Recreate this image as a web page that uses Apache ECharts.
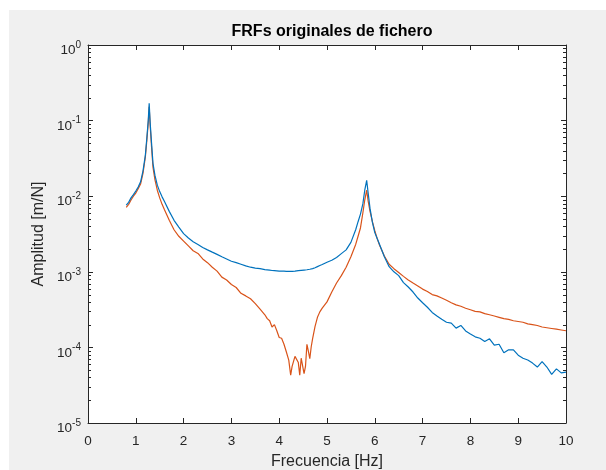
<!DOCTYPE html>
<html>
<head>
<meta charset="utf-8">
<title>FRFs originales de fichero</title>
<script src="https://cdn.jsdelivr.net/npm/echarts@6/dist/echarts.min.js"></script>
<style>
  html, body { margin: 0; padding: 0; background: #ffffff; }
  #figura { position: absolute; left: 9px; top: 10px; width: 597px; height: 460px; background: #f0f0f0; }
  #grafico { position: absolute; left: 0; top: 0; width: 606px; height: 470px; }
</style>
</head>
<body>
<div id="figura"></div>
<div id="grafico"></div>
<script>
// Frecuencias de muestreo de las FRF [Hz]
const frecuencias = [
  0.80, 0.85, 0.90, 0.95, 1.00, 1.05, 1.10, 1.15, 1.20, 1.23, 1.26, 1.28, 1.30, 1.33, 1.36, 1.40,
  1.45, 1.50, 1.55, 1.60, 1.70, 1.80, 1.90, 2.00, 2.10, 2.20, 2.30, 2.40, 2.50, 2.60, 2.70, 2.80,
  2.90, 3.00, 3.10, 3.20, 3.30, 3.40, 3.50, 3.60, 3.70, 3.75, 3.80, 3.85, 3.90, 3.95, 4.00, 4.05,
  4.10, 4.15, 4.20, 4.24, 4.27, 4.30, 4.33, 4.37, 4.40, 4.43, 4.46, 4.49, 4.52, 4.55, 4.58, 4.61,
  4.64, 4.67, 4.70, 4.75, 4.80, 4.85, 4.90, 5.00, 5.10, 5.20, 5.30, 5.40, 5.50, 5.60, 5.65, 5.70,
  5.75, 5.79, 5.83, 5.86, 5.90, 5.95, 6.00, 6.05, 6.10, 6.20, 6.30, 6.40, 6.50, 6.60, 6.70, 6.80,
  6.90, 7.00, 7.10, 7.20, 7.30, 7.40, 7.50, 7.60, 7.70, 7.80, 7.90, 8.00, 8.10, 8.20, 8.30, 8.40,
  8.50, 8.60, 8.70, 8.80, 8.90, 9.00, 9.10, 9.20, 9.30, 9.40, 9.50, 9.60, 9.70, 9.80, 9.90, 10.00
];

// FRF 1 (azul) [m/N]
const frf1 = [
  7.6e-3, 8.3e-3, 9.5e-3, 1.05e-2, 1.17e-2, 1.32e-2, 1.55e-2, 2.15e-2, 3.5e-2, 5.8e-2, 1.0e-1, 1.69e-1, 9.5e-2, 5.0e-2, 2.7e-2, 1.9e-2,
  1.4e-2, 1.15e-2, 9.8e-3, 8.5e-3, 6.3e-3, 4.8e-3, 3.9e-3, 3.2e-3, 2.8e-3, 2.5e-3, 2.3e-3, 2.1e-3, 1.95e-3, 1.82e-3, 1.70e-3, 1.58e-3,
  1.48e-3, 1.38e-3, 1.32e-3, 1.26e-3, 1.20e-3, 1.15e-3, 1.12e-3, 1.10e-3, 1.07e-3, 1.06e-3, 1.05e-3, 1.04e-3, 1.035e-3, 1.03e-3, 1.02e-3, 1.02e-3,
  1.02e-3, 1.015e-3, 1.01e-3, 1.01e-3, 1.015e-3, 1.02e-3, 1.02e-3, 1.03e-3, 1.035e-3, 1.04e-3, 1.045e-3, 1.05e-3, 1.055e-3, 1.06e-3, 1.065e-3, 1.07e-3,
  1.08e-3, 1.09e-3, 1.10e-3, 1.13e-3, 1.17e-3, 1.21e-3, 1.25e-3, 1.34e-3, 1.42e-3, 1.55e-3, 1.74e-3, 1.95e-3, 2.45e-3, 3.6e-3, 4.6e-3, 5.8e-3,
  7.9e-3, 1.2e-2, 1.62e-2, 1.12e-2, 6.9e-3, 4.5e-3, 3.3e-3, 2.75e-3, 2.3e-3, 1.58e-3, 1.17e-3, 1.0e-3, 8.9e-4, 7.2e-4, 6.3e-4, 5.4e-4,
  4.5e-4, 3.9e-4, 3.4e-4, 2.9e-4, 2.6e-4, 2.35e-4, 2.15e-4, 2.1e-4, 1.8e-4, 1.95e-4, 1.65e-4, 1.5e-4, 1.38e-4, 1.32e-4, 1.2e-4, 1.3e-4,
  1.07e-4, 1.1e-4, 8.5e-5, 9.3e-5, 9.3e-5, 7.9e-5, 7.2e-5, 6.8e-5, 6.2e-5, 5.5e-5, 6.5e-5, 5.5e-5, 4.4e-5, 5.2e-5, 4.6e-5, 4.7e-5
];

// FRF 2 (naranja) [m/N]
const frf2 = [
  7.1e-3, 7.8e-3, 8.9e-3, 1.0e-2, 1.1e-2, 1.26e-2, 1.45e-2, 2.0e-2, 3.3e-2, 5.4e-2, 9.3e-2, 1.52e-1, 8.7e-2, 4.4e-2, 2.4e-2, 1.66e-2,
  1.2e-2, 9.5e-3, 7.8e-3, 6.6e-3, 4.8e-3, 3.6e-3, 2.95e-3, 2.55e-3, 2.2e-3, 1.9e-3, 1.75e-3, 1.48e-3, 1.32e-3, 1.15e-3, 1.02e-3, 8.5e-4,
  7.8e-4, 6.8e-4, 6.2e-4, 5.2e-4, 4.8e-4, 4.4e-4, 3.8e-4, 3.2e-4, 2.7e-4, 2.4e-4, 2.25e-4, 1.86e-4, 2.0e-4, 1.66e-4, 1.35e-4, 1.32e-4,
  1.1e-4, 8.7e-5, 6.8e-5, 4.3e-5, 5.6e-5, 5.8e-5, 7.6e-5, 7.9e-5, 6.3e-5, 4.3e-5, 7.2e-5, 7.6e-5, 4.5e-5, 5.6e-5, 1.1e-4, 8.9e-5,
  7.1e-5, 1.02e-4, 1.32e-4, 1.9e-4, 2.5e-4, 2.95e-4, 3.3e-4, 4.0e-4, 5.4e-4, 7.1e-4, 8.9e-4, 1.15e-3, 1.58e-3, 2.3e-3, 2.95e-3, 3.8e-3,
  6.0e-3, 8.9e-3, 1.2e-2, 8.7e-3, 6.3e-3, 4.6e-3, 3.5e-3, 2.75e-3, 2.25e-3, 1.62e-3, 1.26e-3, 1.1e-3, 9.8e-4, 8.7e-4, 7.8e-4, 7.1e-4,
  6.5e-4, 5.9e-4, 5.5e-4, 5.0e-4, 4.8e-4, 4.5e-4, 4.2e-4, 3.9e-4, 3.65e-4, 3.5e-4, 3.3e-4, 3.15e-4, 3.0e-4, 2.95e-4, 2.8e-4, 2.7e-4,
  2.6e-4, 2.5e-4, 2.4e-4, 2.35e-4, 2.25e-4, 2.2e-4, 2.15e-4, 2.05e-4, 2.0e-4, 1.95e-4, 1.86e-4, 1.82e-4, 1.78e-4, 1.74e-4, 1.70e-4, 1.66e-4
];

// Marcas del eje X y límites del eje Y (logarítmico)
const marcasX = [0, 1, 2, 3, 4, 5, 6, 7, 8, 9, 10];
const yMin = 1e-5;
const yMax = 1;
// Marcas secundarias del eje logarítmico (2..9 de cada década)
const marcasMenoresY = [];
for (let e = -5; e < 0; e++) {
  for (let m = 2; m <= 9; m++) marcasMenoresY.push(m * Math.pow(10, e));
}

const COLOR_TEXTO = '#262626';
const COLOR_EJE = '#262626';
const FUENTE = '"Liberation Sans", Arial, Helvetica, sans-serif';

function etiquetaPotencia(v) {
  const e = Math.round(Math.log10(v));
  return '{b|10}{s|' + e + '}';
}

const pares = (ys) => frecuencias.map((f, i) => [f, ys[i]]);

const chart = echarts.init(document.getElementById('grafico'), null, { renderer: 'canvas' });

const ejeX = {
  type: 'value',
  min: marcasX[0],
  max: marcasX[marcasX.length - 1],
  interval: 1,
  axisLine: { show: true, onZero: false, lineStyle: { color: COLOR_EJE, width: 1 } },
  axisTick: { show: true, inside: true, length: 5, lineStyle: { color: COLOR_EJE, width: 1 } },
  splitLine: { show: false }
};

const ejeY = {
  type: 'log',
  logBase: 10,
  min: yMin,
  max: yMax,
  splitNumber: 5,
  axisLine: { show: true, onZero: false, lineStyle: { color: COLOR_EJE, width: 1 } },
  axisTick: { show: true, inside: true, length: 5, lineStyle: { color: COLOR_EJE, width: 1 } },
  splitLine: { show: false }
};

chart.setOption({
  animation: false,
  backgroundColor: 'transparent',
  textStyle: { fontFamily: FUENTE },
  title: {
    text: 'FRFs originales de fichero',
    left: 327,
    textAlign: 'center',
    top: 19,
    textStyle: { fontFamily: FUENTE, fontSize: 16, fontWeight: 'bold', color: '#000000' }
  },
  grid: {
    left: 88, top: 45, right: 40, bottom: 47,
    containLabel: false,
    outerBoundsMode: 'none',
    show: true, backgroundColor: '#ffffff', borderWidth: 0
  },
  xAxis: [
    Object.assign({}, ejeX, {
      position: 'bottom',
      name: 'Frecuencia [Hz]',
      nameLocation: 'middle',
      nameGap: 31,
      nameTextStyle: { fontFamily: FUENTE, fontSize: 16, color: COLOR_TEXTO },
      axisLabel: { show: true, margin: 11, fontFamily: FUENTE, fontSize: 13.5, color: COLOR_TEXTO }
    }),
    Object.assign({}, ejeX, { position: 'top', axisLabel: { show: false } })
  ],
  yAxis: [
    Object.assign({}, ejeY, {
      position: 'left',
      name: 'Amplitud [m/N]',
      nameLocation: 'middle',
      nameGap: 34,
      nameRotate: 90,
      nameTextStyle: { fontFamily: FUENTE, fontSize: 16, color: COLOR_TEXTO },
      axisLabel: {
        show: true,
        margin: 7,
        formatter: etiquetaPotencia,
        rich: {
          b: { fontFamily: FUENTE, fontSize: 13.5, color: COLOR_TEXTO, lineHeight: 12, verticalAlign: 'bottom' },
          s: { fontFamily: FUENTE, fontSize: 10, color: COLOR_TEXTO, lineHeight: 25, verticalAlign: 'middle' }
        }
      }
    }),
    Object.assign({}, ejeY, { position: 'right', axisLabel: { show: false } })
  ],
  series: [
    {
      name: 'FRF 1',
      type: 'line',
      xAxisIndex: 0, yAxisIndex: 0,
      data: pares(frf1),
      showSymbol: false,
      symbol: 'none',
      lineStyle: { color: '#0072BD', width: 1.2 },
      itemStyle: { color: '#0072BD' },
      z: 3
    },
    {
      name: 'FRF 2',
      type: 'line',
      xAxisIndex: 0, yAxisIndex: 0,
      data: pares(frf2),
      showSymbol: false,
      symbol: 'none',
      lineStyle: { color: '#D95319', width: 1.2 },
      itemStyle: { color: '#D95319' },
      z: 2
    },
    {
      // marcas secundarias en los bordes izquierdo y derecho del área de trazado
      name: 'marcas',
      type: 'custom',
      xAxisIndex: 0, yAxisIndex: 0,
      silent: true,
      clip: false,
      z: 10,
      data: marcasMenoresY.map(v => [0, v]),
      renderItem: function (params, api) {
        const p = api.coord([0, api.value(1)]);
        const r = params.coordSys;
        const est = { stroke: COLOR_EJE, lineWidth: 1 };
        const y = Math.round(p[1]) + 0.5;
        return {
          type: 'group',
          children: [
            { type: 'line', shape: { x1: r.x, y1: y, x2: r.x + 3, y2: y }, style: est },
            { type: 'line', shape: { x1: r.x + r.width - 3, y1: y, x2: r.x + r.width, y2: y }, style: est }
          ]
        };
      }
    }
  ]
});
</script>
</body>
</html>
